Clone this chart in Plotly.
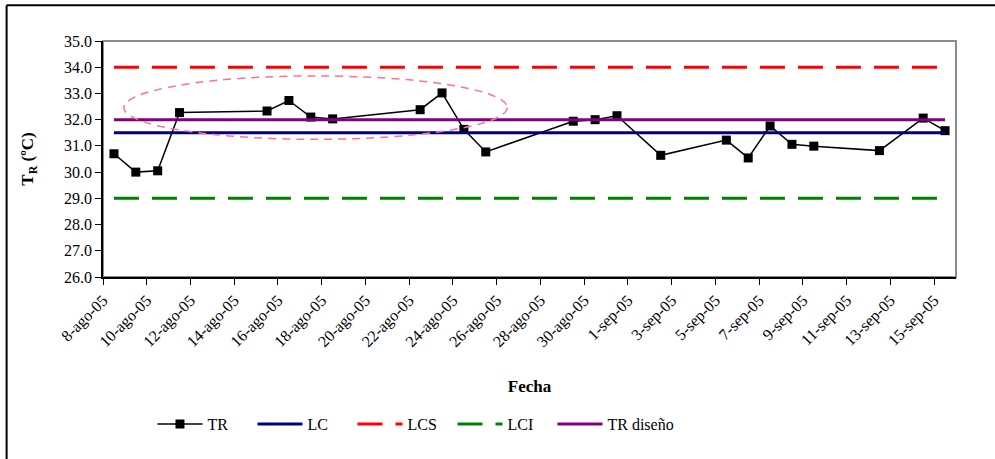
import pandas as pd
import plotly.graph_objects as go

# Sampling dates and measured reactor temperature
fechas = ["2005-08-08", "2005-08-09", "2005-08-10", "2005-08-11",
          "2005-08-15", "2005-08-16", "2005-08-17", "2005-08-18",
          "2005-08-22", "2005-08-23", "2005-08-24", "2005-08-25",
          "2005-08-29", "2005-08-30", "2005-08-31", "2005-09-02",
          "2005-09-05", "2005-09-06", "2005-09-07", "2005-09-08",
          "2005-09-09", "2005-09-12", "2005-09-14", "2005-09-15"]
tr = [30.7, 30.0, 30.05, 32.27, 32.33, 32.73, 32.1, 32.03,
      32.38, 33.02, 31.63, 30.77, 31.94, 32.0, 32.15, 30.64,
      31.22, 30.54, 31.76, 31.06, 30.99, 30.82, 32.06, 31.58]

# Control limits and design temperature
lc = 31.5
lcs = 34.0
lci = 29.0
tr_diseno = 32.0

# Date tick labels (every two days)
tick_fechas = pd.date_range("2005-08-08", "2005-09-15", freq="2D")
meses = {8: "ago", 9: "sep"}
tick_text = [f"{d.day}-{meses[d.month]}-{d.strftime('%y')}" for d in tick_fechas]

# each day is plotted at the centre of its interval on the date axis
x = pd.to_datetime(fechas) + pd.Timedelta(hours=12)

FONT = "Liberation Serif"
fig = go.Figure()

fig.add_trace(go.Scatter(
    x=x, y=tr, name="TR", mode="lines+markers",
    line=dict(color="black", width=1.5),
    marker=dict(symbol="square", size=9, color="black"),
))
fig.add_trace(go.Scatter(
    x=x, y=[lc] * len(x), name="LC", mode="lines",
    line=dict(color="#000080", width=3),
))
fig.add_trace(go.Scatter(
    x=x, y=[lcs] * len(x), name="LCS", mode="lines",
    line=dict(color="#FF0000", width=3, dash="25px,13px"),
))
fig.add_trace(go.Scatter(
    x=x, y=[lci] * len(x), name="LCI", mode="lines",
    line=dict(color="#008000", width=3, dash="25px,13px"),
))
fig.add_trace(go.Scatter(
    x=x, y=[tr_diseno] * len(x), name="TR diseño", mode="lines",
    line=dict(color="#800080", width=3),
))
# empty spacer entry so the last legend label has room
fig.add_trace(go.Scatter(
    x=[None], y=[None], name=" ", mode="lines",
    line=dict(color="rgba(0,0,0,0)", width=0), hoverinfo="skip",
))

# highlighted region and frames
fig.add_shape(type="circle", xref="x", yref="y",
              x0="2005-08-08 22:48", x1="2005-08-26 11:30",
              y0=31.25, y1=33.67,
              line=dict(color="#FF6E9C", width=1.5, dash="8px,6px"))
fig.add_shape(type="rect", xref="paper", yref="paper", x0=0, x1=1, y0=0, y1=1,
              line=dict(color="#8C8C8C", width=2), layer="below")
fig.add_shape(type="line", xref="paper", yref="paper",
              x0=-0.113, x1=1.05, y0=1.152, y1=1.152,
              line=dict(color="black", width=2))
fig.add_shape(type="line", xref="paper", yref="paper",
              x0=-0.113, x1=-0.113, y0=1.152, y1=-1.0,
              line=dict(color="black", width=2))

fig.update_layout(
    width=995, height=459,
    margin=dict(l=103, r=39, t=41, b=182),
    paper_bgcolor="white", plot_bgcolor="white",
    font=dict(family=FONT, size=16, color="black"),
    showlegend=True,
    legend=dict(orientation="h", x=0.058, y=-0.623, xanchor="left", yanchor="middle",
                entrywidth=40, font=dict(size=16),
                itemwidth=45),
    xaxis=dict(
        type="date",
        range=["2005-08-08", "2005-09-16"],
        tickvals=tick_fechas, ticktext=tick_text, tickangle=-45,
        ticks="outside", ticklen=6, tickcolor="black",
        showline=True, linecolor="black", linewidth=1.5,
        showgrid=False, zeroline=False,
        tickfont=dict(size=16),
        title=dict(text="<b>Fecha</b>", font=dict(size=17), standoff=30),
    ),
    yaxis=dict(
        range=[26, 35], dtick=1, tickformat=".1f",
        ticks="outside", ticklen=6, tickcolor="black",
        showline=True, linecolor="black", linewidth=1.5,
        showgrid=False, zeroline=False,
        tickfont=dict(size=16),
        title=dict(text="<b>T<sub>R</sub> (ºC)</b>", font=dict(size=17), standoff=26),
    ),
)

fig.write_html("out.html")
